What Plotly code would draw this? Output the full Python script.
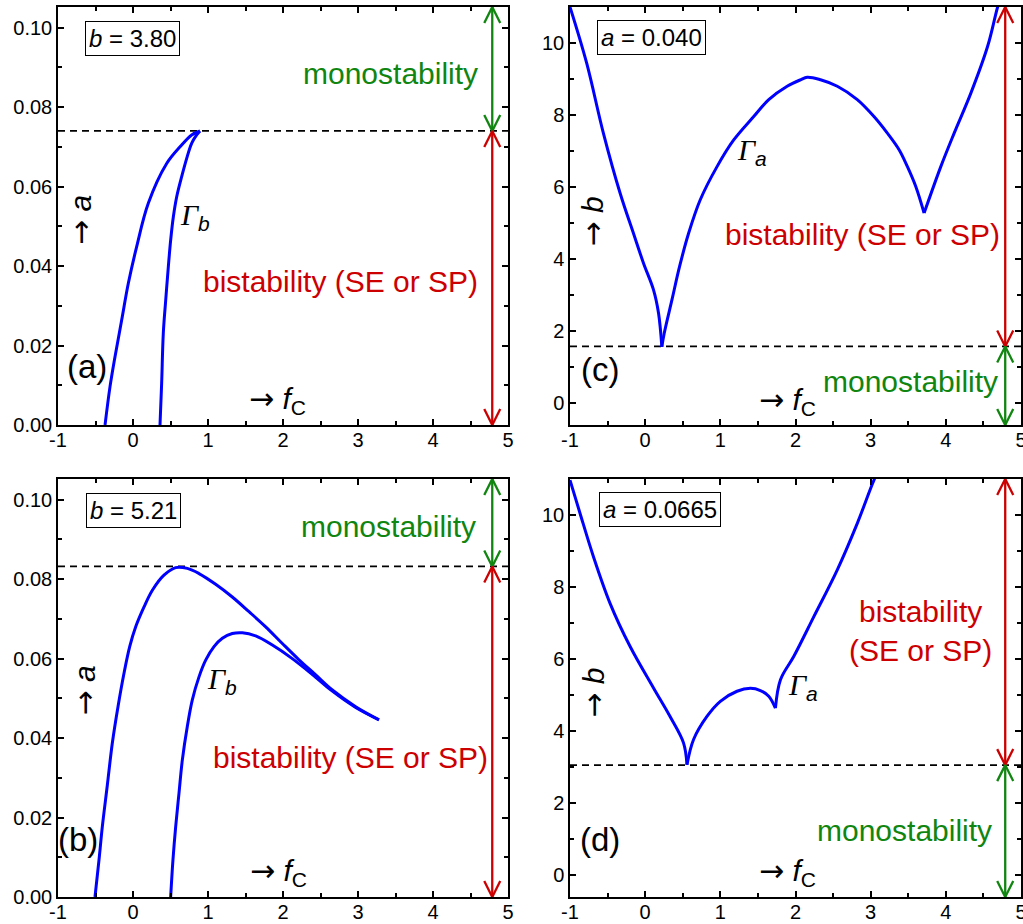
import plotly.graph_objects as go

# ---------------- data ----------------
# panel (a): b = 3.80, curve Gamma_b in (f_C, a)
a_left_x = [-0.373, -0.307, -0.24, -0.151, -0.063, 0.049, 0.204, 0.449, 0.627, 0.782, 0.893]
a_left_y = [0.0, 0.0096, 0.0172, 0.0264, 0.0356, 0.0449, 0.0558, 0.0658, 0.070, 0.073, 0.074]
a_right_x = [0.36, 0.382, 0.404, 0.436, 0.471, 0.502, 0.538, 0.582, 0.649, 0.716, 0.782, 0.849, 0.893]
a_right_y = [0.0, 0.0105, 0.0231, 0.0314, 0.0398, 0.0465, 0.0524, 0.0574, 0.0625, 0.0671, 0.0709, 0.073, 0.074]
a_threshold = 0.074

# panel (b): b = 5.21
b_outer_x = [-0.507, -0.453, -0.409, -0.342, -0.276, -0.2, -0.12, -0.044, 0.036, 0.147, 0.258, 0.413,
             0.569, 0.724, 0.88, 1.102, 1.324, 1.547, 1.769, 1.991, 2.213, 2.436, 2.658, 2.969, 3.28]
b_outer_y = [0.0, 0.0094, 0.0177, 0.0282, 0.0387, 0.0479, 0.0563, 0.063, 0.068, 0.073, 0.0772, 0.081,
             0.0829, 0.0827, 0.0814, 0.0787, 0.0755, 0.0718, 0.068, 0.0638, 0.0597, 0.0559, 0.0521, 0.0479, 0.0446]
b_inner_x = [0.502, 0.533, 0.569, 0.613, 0.658, 0.724, 0.791, 0.88, 0.969, 1.08, 1.191, 1.324, 1.458,
             1.636, 1.858, 2.124, 2.436, 2.658, 2.969, 3.28]
b_inner_y = [0.0, 0.0094, 0.0177, 0.0261, 0.0345, 0.0429, 0.0496, 0.0554, 0.0596, 0.063, 0.0651, 0.0663,
             0.0665, 0.0657, 0.0634, 0.060, 0.0553, 0.0518, 0.0477, 0.0446]
b_threshold = 0.0832

# panel (c): a = 0.040, curve Gamma_a in (f_C, b)
c_left_x = [-1.0, -0.778, -0.556, -0.333, -0.156, -0.022, 0.111, 0.178, 0.222]
c_left_y = [11.0, 9.44, 7.5, 5.83, 4.72, 3.89, 3.15, 2.5, 1.57]
c_mid_x = [0.222, 0.253, 0.356, 0.458, 0.578, 0.733, 0.956, 1.178, 1.444, 1.644, 1.889, 2.067, 2.156,
           2.333, 2.556, 2.822, 3.044, 3.222, 3.378, 3.489, 3.6, 3.711]
c_mid_y = [1.57, 1.94, 2.87, 3.80, 4.72, 5.65, 6.57, 7.31, 7.96, 8.43, 8.80, 8.98, 9.05,
           8.98, 8.80, 8.43, 7.96, 7.5, 7.04, 6.57, 6.02, 5.28]
c_right_x = [3.711, 3.933, 4.111, 4.333, 4.556, 4.689, 4.75]
c_right_y = [5.28, 6.57, 7.5, 8.61, 9.91, 11.0, 11.4]
c_threshold = 1.58

# panel (d): a = 0.0665
d_left_x = [-1.0, -0.867, -0.689, -0.467, -0.2, 0.111, 0.333, 0.511, 0.556]
d_left_y = [10.97, 10.05, 8.85, 7.55, 6.35, 5.2, 4.4, 3.67, 3.07]
d_mid_x = [0.556, 0.644, 0.822, 1.0, 1.222, 1.4, 1.533, 1.644, 1.733]
d_mid_y = [3.07, 3.77, 4.41, 4.83, 5.11, 5.19, 5.13, 4.97, 4.64]
d_right_x = [1.733, 1.8, 1.978, 2.244, 2.556, 2.822, 3.044, 3.1]
d_right_y = [4.64, 5.43, 6.08, 7.18, 8.48, 9.77, 10.97, 11.2]
d_threshold = 3.06

x_ticks = [-1, 0, 1, 2, 3, 4, 5]
x_tick_labels = ["-1", "0", "1", "2", "3", "4", "5"]
a_ticks = [0.0, 0.02, 0.04, 0.06, 0.08, 0.10]
a_tick_labels = ["0.00", "0.02", "0.04", "0.06", "0.08", "0.10"]
b_ticks = [0, 2, 4, 6, 8, 10]
b_tick_labels = ["0", "2", "4", "6", "8", "10"]

x_range = [-1, 5]
a_range = [0, 0.1052]
b_range = [-0.6, 11.0]
arrow_x = 4.79

# ---------------- style ----------------
BLUE = "#0000FF"
GREEN = "#108510"
RED = "#CC0000"
FONT = "Liberation Sans, Arial, sans-serif"
ARROW = '<span style="font-family:DejaVu Sans">→</span>'

W, H = 1023, 924
xdom_left = [58 / W, 508 / W]
xdom_right = [570 / W, 1021 / W]
ydom_top = [1 - 425 / H, 1 - 7 / H]
ydom_bot = [1 - 897 / H, 1 - 479 / H]

fig = go.Figure()

panels = [
    ("a", "x", "y", xdom_left, ydom_top, a_range),
    ("b", "x2", "y2", xdom_left, ydom_bot, a_range),
    ("c", "x3", "y3", xdom_right, ydom_top, b_range),
    ("d", "x4", "y4", xdom_right, ydom_bot, b_range),
]

curves = {
    "a": [(a_left_x, a_left_y), (a_right_x, a_right_y)],
    "b": [(b_outer_x, b_outer_y), (b_inner_x, b_inner_y)],
    "c": [(c_left_x, c_left_y), (c_mid_x, c_mid_y), (c_right_x, c_right_y)],
    "d": [(d_left_x, d_left_y), (d_mid_x, d_mid_y), (d_right_x, d_right_y)],
}
thresholds = {"a": a_threshold, "b": b_threshold, "c": c_threshold, "d": d_threshold}

PLOT_W = 450.0
PLOT_H = 418.0


def arrow_trace(xr, yr, x, y0, y1, color, yrange):
    ux = (x_range[1] - x_range[0]) / PLOT_W
    uy = (yrange[1] - yrange[0]) / PLOT_H
    hl = 16 * uy
    hw = 8 * ux
    xs = [x, x, None, x - hw, x, x + hw, None, x - hw, x, x + hw]
    ys = [y0, y1, None, y0 + hl, y0, y0 + hl, None, y1 - hl, y1, y1 - hl]
    return go.Scatter(x=xs, y=ys, xaxis=xr, yaxis=yr, mode="lines",
                      line=dict(color=color, width=2.3), hoverinfo="skip",
                      showlegend=False, cliponaxis=False)


for name, xr, yr, xd, yd, yrange in panels:
    thr = thresholds[name]
    fig.add_trace(go.Scatter(x=list(x_range), y=[thr, thr], xaxis=xr, yaxis=yr, mode="lines",
                             line=dict(color="black", width=1.8, dash="7px,5px"),
                             showlegend=False, hoverinfo="skip"))
    for cx, cy in curves[name]:
        fig.add_trace(go.Scatter(x=cx, y=cy, xaxis=xr, yaxis=yr, mode="lines",
                                 line=dict(color=BLUE, width=3, shape="spline", smoothing=1.0),
                                 showlegend=False, hoverinfo="skip"))
    if name in ("a", "b"):
        fig.add_trace(arrow_trace(xr, yr, arrow_x, thr, yrange[1], GREEN, yrange))
        fig.add_trace(arrow_trace(xr, yr, arrow_x, yrange[0], thr, RED, yrange))
    else:
        fig.add_trace(arrow_trace(xr, yr, arrow_x, thr, yrange[1], RED, yrange))
        fig.add_trace(arrow_trace(xr, yr, arrow_x, yrange[0], thr, GREEN, yrange))

axis_common = dict(showline=True, linecolor="black", linewidth=1.5, mirror="ticks",
                   ticks="inside", ticklen=6, tickwidth=1.5, tickcolor="black",
                   showgrid=False, zeroline=False, automargin=False,
                   ticklabeloverflow="allow",
                   tickfont=dict(family=FONT, size=20, color="black"))

layout = dict(width=W, height=H, margin=dict(l=0, r=0, t=0, b=0, autoexpand=False),
              paper_bgcolor="white", plot_bgcolor="white", showlegend=False)

for i, (name, xr, yr, xd, yd, yrange) in enumerate(panels):
    xkey = "xaxis" if i == 0 else f"xaxis{i + 1}"
    ykey = "yaxis" if i == 0 else f"yaxis{i + 1}"
    layout[xkey] = dict(axis_common, domain=xd, range=x_range, anchor=yr,
                        tickvals=x_ticks, ticktext=x_tick_labels, ticklabelstandoff=-4,
                        minor=dict(ticks="inside", ticklen=4, tickwidth=1.5,
                                   dtick=0.5, tick0=-1, tickcolor="black"))
    if name in ("a", "b"):
        layout[ykey] = dict(axis_common, domain=yd, range=yrange, anchor=xr,
                            tickvals=a_ticks, ticktext=a_tick_labels,
                            minor=dict(ticks="inside", ticklen=4, tickwidth=1.5,
                                       dtick=0.01, tick0=0, tickcolor="black"))
    else:
        layout[ykey] = dict(axis_common, domain=yd, range=yrange, anchor=xr,
                            tickvals=b_ticks, ticktext=b_tick_labels,
                            minor=dict(ticks="inside", ticklen=4, tickwidth=1.5,
                                       dtick=1, tick0=0, tickcolor="black"))

fig.update_layout(**layout)

GAMMA = '<span style="font-family:Liberation Serif, Times New Roman, serif"><i>Γ</i></span>'


def ann(xr, yr, x, y, text, size=30, color="black", **kw):
    fig.add_annotation(x=x, y=y, xref=xr, yref=yr, text=text, showarrow=False,
                       font=dict(family=FONT, size=size, color=color),
                       xanchor="center", yanchor="middle", **kw)


box = dict(bordercolor="black", borderwidth=1, bgcolor="white", borderpad=3)
FC = ARROW + " <i>f</i><sub>C</sub>"

# panel (a)
ann("x", "y", -0.013, 0.0973, "<i>b</i> = 3.80", size=24, **box)
ann("x", "y", 3.427, 0.0885, "monostability", color=GREEN)
ann("x", "y", 2.773, 0.0362, "bistability (SE or SP)", color=RED)
ann("x", "y", -0.617, 0.0147, "(a)", size=33)
ann("x", "y", 1.93, 0.0062, FC, size=30)
ann("x", "y", 0.83, 0.0524, GAMMA + "<sub><i>b</i></sub>", size=30)
ann("x", "y", -0.693, 0.0516, ARROW + " <i>a</i>", size=30, textangle=-90)

# panel (b)
ann("x2", "y2", 0.004, 0.0973, "<i>b</i> = 5.21", size=24, **box)
ann("x2", "y2", 3.413, 0.0932, "monostability", color=GREEN)
ann("x2", "y2", 2.903, 0.035, "bistability (SE or SP)", color=RED)
ann("x2", "y2", -0.729, 0.0144, "(b)", size=33)
ann("x2", "y2", 1.94, 0.0062, FC, size=30)
ann("x2", "y2", 1.19, 0.0546, GAMMA + "<sub><i>b</i></sub>", size=30)
ann("x2", "y2", -0.653, 0.052, ARROW + " <i>a</i>", size=30, textangle=-90)

# panel (c)
ann("x3", "y3", 0.089, 10.16, "<i>a</i> = 0.040", size=24, **box)
ann("x3", "y3", 1.42, 6.99, GAMMA + "<sub><i>a</i></sub>", size=30)
ann("x3", "y3", 2.889, 4.68, "bistability (SE or SP)", color=RED)
ann("x3", "y3", -0.6, 0.93, "(c)", size=33)
ann("x3", "y3", 1.9, 0.06, FC, size=30)
ann("x3", "y3", 3.533, 0.62, "monostability", color=GREEN)
ann("x3", "y3", -0.698, 5.04, ARROW + " <i>b</i>", size=30, textangle=-90)

# panel (d)
ann("x4", "y4", 0.191, 10.14, "<i>a</i> = 0.0665", size=24, **box)
ann("x4", "y4", 2.1, 5.24, GAMMA + "<sub><i>a</i></sub>", size=30)
ann("x4", "y4", 3.667, 6.77, "bistability<br>(SE or SP)", color=RED)
ann("x4", "y4", -0.6, 1.0, "(d)", size=33)
ann("x4", "y4", 1.9, 0.09, FC, size=30)
ann("x4", "y4", 3.444, 1.24, "monostability", color=GREEN)
ann("x4", "y4", -0.698, 5.06, ARROW + " <i>b</i>", size=30, textangle=-90)

fig.write_html("out.html")
